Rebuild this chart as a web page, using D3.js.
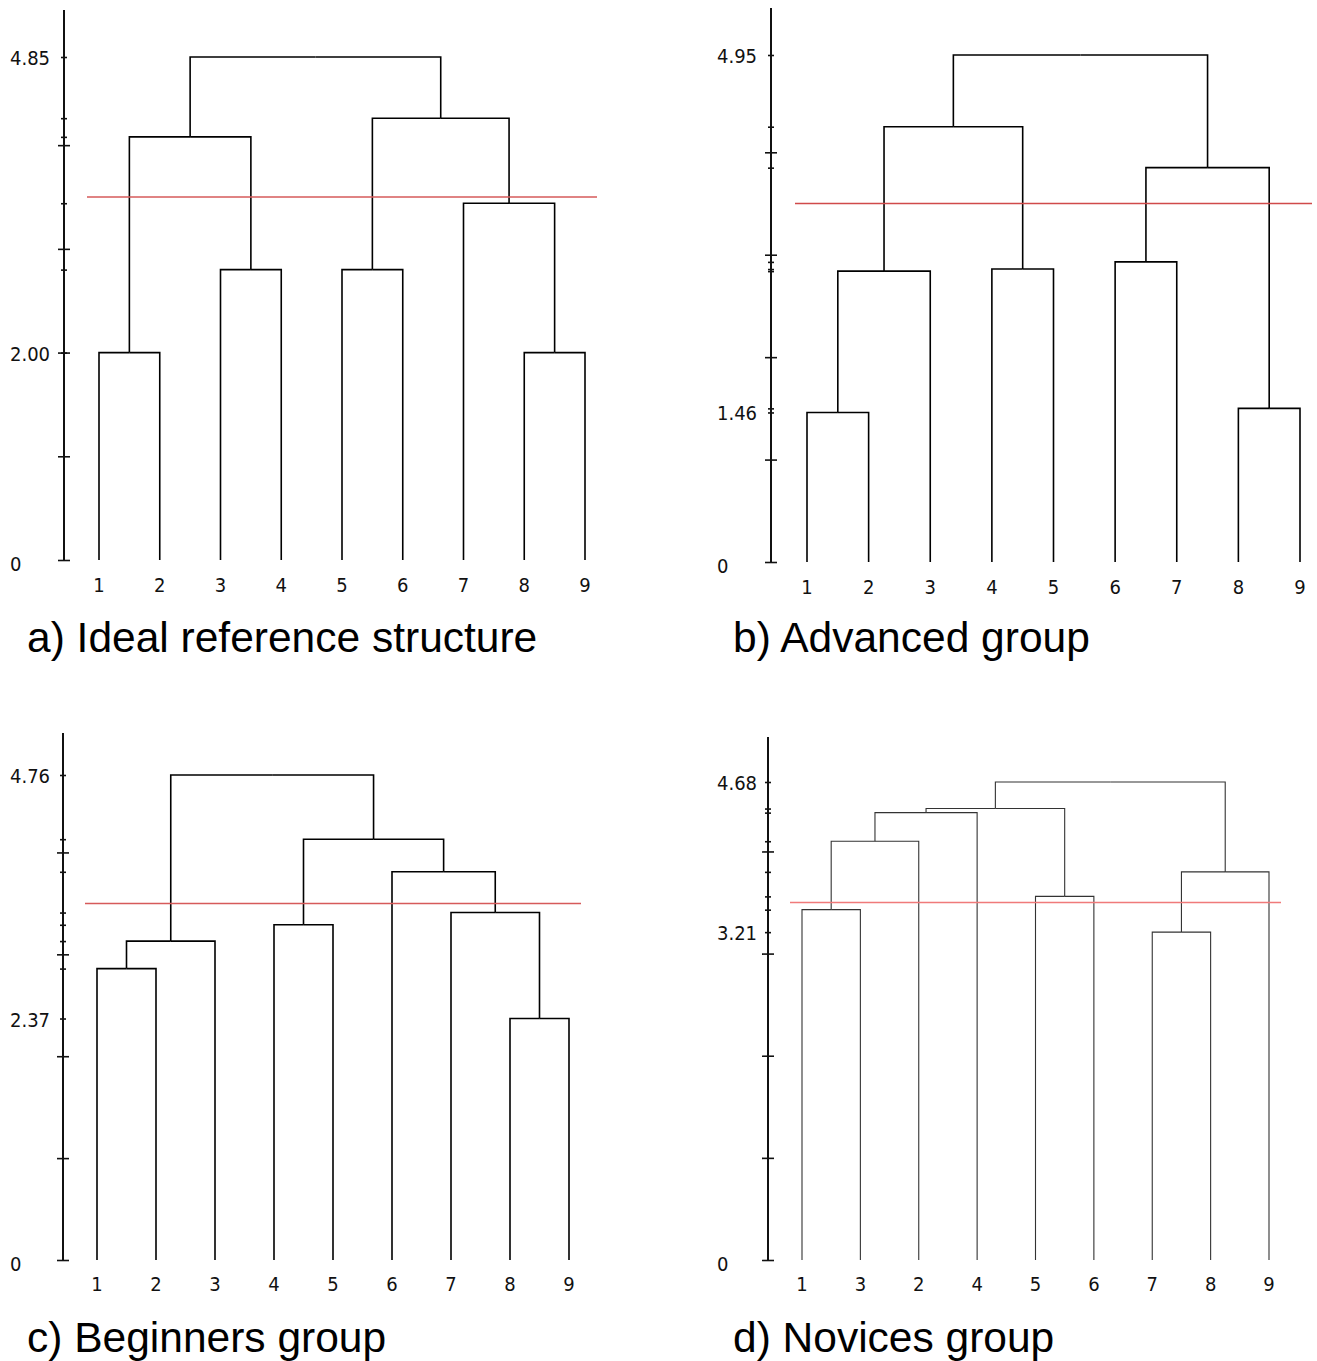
<!DOCTYPE html>
<html><head><meta charset="utf-8">
<script src="https://cdn.jsdelivr.net/npm/d3@7"></script>
<style>
body{margin:0;background:#fff;}
svg{display:block;}
.num{font-family:"DejaVu Sans Condensed","DejaVu Sans",sans-serif;font-size:20px;fill:#111;}
.title{font-family:"Liberation Sans",Arial,sans-serif;font-size:42.5px;fill:#000;}
</style></head>
<body>
<svg id="chart" width="1317" height="1361"></svg>
<script>
// ---------- DATA ----------
// Panel titles
const titles = ["a) Ideal reference structure", "b) Advanced group", "c) Beginners group", "d) Novices group"];

// Leaf order (x-axis labels) per panel
const leavesA = ["1","2","3","4","5","6","7","8","9"];
const leavesB = ["1","2","3","4","5","6","7","8","9"];
const leavesC = ["1","2","3","4","5","6","7","8","9"];
const leavesD = ["1","3","2","4","5","6","7","8","9"];

// Merges: [left, right, height]; "mK" refers to the K-th merge of the same panel
const mergesA = [["1","2",2.00],["3","4",2.80],["5","6",2.80],["8","9",2.00],["7","m3",3.44],["m0","m1",4.08],["m2","m4",4.26],["m5","m6",4.85]];
const mergesB = [["1","2",1.46],["m0","3",2.84],["4","5",2.86],["6","7",2.93],["8","9",1.50],["m3","m4",3.85],["m1","m2",4.25],["m6","m5",4.95]];
const mergesC = [["1","2",2.86],["m0","3",3.13],["4","5",3.29],["8","9",2.37],["7","m3",3.41],["6","m4",3.81],["m2","m5",4.13],["m1","m6",4.76]];
const mergesD = [["1","3",3.43],["m0","2",4.10],["m1","4",4.38],["5","6",3.56],["m2","m3",4.42],["7","8",3.21],["m5","9",3.80],["m4","m6",4.68]];

// Labelled y values and major tick values
const yLabelsA = [0, 2.00, 4.85];
const yLabelsB = [0, 1.46, 4.95];
const yLabelsC = [0, 2.37, 4.76];
const yLabelsD = [0, 3.21, 4.68];
const majorTicks = [0, 1, 2, 3, 4];

// Cut-off (red line) level
const cutLevel = 3.5;

// ---------- LAYOUT ----------
const panels = [
  {leaves:leavesA, merges:mergesA, labels:yLabelsA, axisX:64,  axisTop:10,  y0:560,  topPx:57,  x1:99,  x9:585,  leafLabY:592,  ylabX:10,  tx:27,  ty:652,  stroke:"#000", sw:1.6, red:"#d65a5a", rw:1.5},
  {leaves:leavesB, merges:mergesB, labels:yLabelsB, axisX:771, axisTop:8,   y0:562,  topPx:55,  x1:807, x9:1300, leafLabY:594,  ylabX:717, tx:733, ty:652,  stroke:"#000", sw:1.6, red:"#d04a4a", rw:1.5},
  {leaves:leavesC, merges:mergesC, labels:yLabelsC, axisX:63,  axisTop:733, y0:1260, topPx:775, x1:97,  x9:569,  leafLabY:1291, ylabX:10,  tx:27,  ty:1352, stroke:"#000", sw:1.6, red:"#d65a5a", rw:1.5},
  {leaves:leavesD, merges:mergesD, labels:yLabelsD, axisX:768, axisTop:737, y0:1260, topPx:782, x1:802, x9:1269, leafLabY:1291, ylabX:717, tx:733, ty:1352, stroke:"#333", sw:1.1, red:"#f07a7a", rw:1.3}
];

const svg = d3.select("#chart");

panels.forEach((p, i) => {
  const g = svg.append("g");
  const topVal = d3.max(p.merges, m => m[2]);
  const y = d3.scaleLinear().domain([0, topVal]).range([p.y0, p.topPx]);
  const x = d3.scalePoint().domain(p.leaves).range([p.x1, p.x9]);

  // build tree
  const nodes = {};
  p.leaves.forEach(l => nodes[l] = {name:l, h:0});
  p.merges.forEach((m, k) => {
    nodes["m"+k] = {name:"m"+k, h:m[2], children:[nodes[m[0]], nodes[m[1]]]};
  });
  const root = d3.hierarchy(nodes["m"+(p.merges.length-1)]);
  root.eachAfter(n => {
    n.px = n.children ? d3.mean(n.children, c => c.px) : x(n.data.name);
  });

  // axis line
  g.append("line").attr("x1", p.axisX).attr("x2", p.axisX)
    .attr("y1", p.axisTop).attr("y2", p.y0)
    .attr("stroke", "#111").attr("stroke-width", 2);

  // major ticks (both sides)
  const major = d3.axisLeft(y).tickValues(majorTicks.filter(v => v <= topVal)).tickSize(6).tickFormat("");
  const ga = g.append("g").attr("transform", `translate(${p.axisX},0)`).call(major);
  ga.select(".domain").remove();
  ga.selectAll(".tick line").attr("x1", -6).attr("x2", 6).attr("stroke", "#111").attr("stroke-width", 1.6);

  // minor ticks at merge heights
  const minorVals = Array.from(new Set(p.merges.map(m => m[2])));
  const minor = d3.axisLeft(y).tickValues(minorVals).tickSize(3).tickFormat("");
  const gm = g.append("g").attr("transform", `translate(${p.axisX},0)`).call(minor);
  gm.select(".domain").remove();
  gm.selectAll(".tick line").attr("x1", -3).attr("x2", 3).attr("stroke", "#111").attr("stroke-width", 1.6);

  // y labels
  g.selectAll(".ylab").data(p.labels).enter().append("text")
    .attr("class", "num").attr("x", p.ylabX).attr("y", d => y(d) + 8 + (d === 0 ? 3 : 0))
    .text(d => d === 0 ? "0" : d.toFixed(2));

  // dendrogram links
  g.selectAll(".link").data(root.links()).enter().append("path")
    .attr("fill", "none").attr("stroke", p.stroke).attr("stroke-width", p.sw)
    .attr("d", l => `M${l.target.px},${y(l.target.data.h)}V${y(l.source.data.h)}H${l.source.px}`);

  // red cut line
  g.append("line").attr("x1", p.x1 - 12).attr("x2", p.x9 + 12)
    .attr("y1", y(cutLevel)).attr("y2", y(cutLevel))
    .attr("stroke", p.red).attr("stroke-width", p.rw);

  // leaf labels
  g.selectAll(".leaf").data(p.leaves).enter().append("text")
    .attr("class", "num").attr("x", d => x(d)).attr("y", p.leafLabY)
    .attr("text-anchor", "middle").text(d => d);

  // title
  g.append("text").attr("class", "title").attr("x", p.tx).attr("y", p.ty).text(titles[i]);
});
</script>
</body></html>
